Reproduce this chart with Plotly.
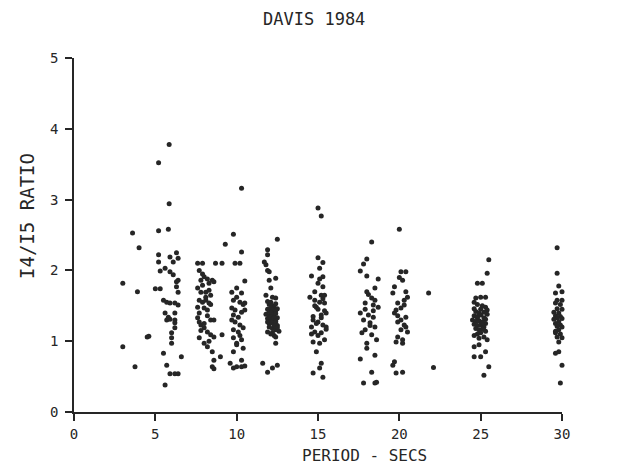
import plotly.graph_objects as go

# ---- data (period in seconds, I4/I5 ratio) ----
period_short = [3.0, 3.0, 3.6, 4.0, 3.75, 3.9, 4.5, 4.6, 5.2, 5.85, 5.85, 5.2, 5.8, 5.2, 5.2,
                5.9, 6.1, 6.3, 6.4, 5.3, 5.6, 5.9, 6.1, 6.3, 6.3, 6.4, 5.0, 5.3, 6.4,
                5.5, 5.7, 5.9, 6.2, 6.4, 5.6, 5.8, 5.7, 5.9, 6.2, 6.2, 6.2, 6.2,
                6.0, 6.0, 6.0, 5.5, 6.6, 5.7, 5.9, 6.2, 6.4, 5.6]
ratio_short = [1.82, 0.92, 2.53, 2.32, 0.64, 1.70, 1.06, 1.07, 3.52, 3.78, 2.94, 2.56, 2.58, 2.22, 2.12,
               2.19, 2.12, 2.25, 2.17, 1.99, 2.03, 1.98, 1.94, 1.84, 1.77, 1.86, 1.74, 1.74, 1.69,
               1.58, 1.55, 1.54, 1.54, 1.51, 1.40, 1.34, 1.30, 1.31, 1.40, 1.30, 1.26, 1.19,
               1.12, 1.05, 0.97, 0.83, 0.78, 0.66, 0.54, 0.54, 0.54, 0.38]

period_8 = [7.6, 7.9, 7.7, 8.0, 8.2, 8.5, 7.8, 7.9, 8.3, 8.6, 7.6, 7.8, 8.1, 8.3, 8.4,
            7.7, 7.9, 8.1, 8.3, 7.6, 8.0, 8.2, 7.6, 7.7, 7.8, 8.0, 8.2, 8.4, 8.6, 8.4, 8.6,
            7.7, 8.0, 8.2, 8.5, 8.6, 8.5, 8.6, 9.1, 9.0, 8.7, 9.1,
            7.9, 8.1, 8.4, 7.7, 8.2, 8.0, 7.8, 8.3]
ratio_8 = [2.10, 2.10, 2.00, 1.91, 1.88, 1.86, 1.86, 1.79, 1.82, 1.84, 1.75, 1.69, 1.69, 1.72, 1.65,
           1.58, 1.55, 1.58, 1.54, 1.48, 1.47, 1.44, 1.33, 1.27, 1.23, 1.19, 1.13, 1.09, 1.06, 1.30, 1.30,
           1.05, 0.97, 0.92, 0.85, 0.73, 0.64, 0.61, 1.09, 0.78, 2.10, 2.10,
           1.95, 1.62, 1.52, 1.40, 1.36, 1.25, 1.15, 1.00]

period_10 = [10.3, 9.8, 9.3, 10.3, 9.9, 10.2, 10.5, 9.7, 10.3, 10.0, 9.8, 10.2, 10.5,
             9.7, 9.9, 10.3, 10.5, 9.8, 10.1, 9.9, 10.2, 10.4, 9.8, 10.1,
             9.8, 10.3, 10.0, 10.4, 9.8, 10.3, 9.6, 9.8, 10.0, 10.3, 10.5,
             10.0, 10.4, 9.7, 10.2, 10.0]
ratio_10 = [3.16, 2.51, 2.37, 2.26, 2.10, 2.10, 1.85, 1.69, 1.68, 1.62, 1.58, 1.55, 1.54,
            1.47, 1.44, 1.41, 1.44, 1.37, 1.34, 1.27, 1.23, 1.19, 1.16, 1.13,
            1.05, 1.02, 0.97, 0.90, 0.85, 0.73, 0.69, 0.62, 0.64, 0.64, 0.65,
            1.75, 1.52, 1.30, 1.08, 0.95]

period_12 = [12.5, 11.9, 11.9, 11.7, 11.8, 11.9, 12.0, 12.4, 12.0, 12.1, 11.8, 12.2, 12.4,
             11.9, 12.0, 12.1, 12.2, 12.3, 12.4, 12.5, 11.9, 12.0, 12.1, 12.2, 12.3, 12.4,
             11.8, 12.0, 12.1, 12.2, 12.3, 12.4, 12.5, 11.9, 12.0, 12.1, 12.2, 12.3, 12.4,
             11.9, 12.0, 12.1, 12.2, 12.3, 12.4, 12.5, 12.0, 12.2, 12.3, 12.4, 12.5, 12.6,
             12.1, 12.3, 11.9, 12.2, 12.4, 12.4, 11.6, 11.9, 12.2, 12.5]
ratio_12 = [2.44, 2.29, 2.22, 2.12, 2.08, 2.00, 1.98, 1.89, 1.86, 1.75, 1.65, 1.62, 1.61,
            1.56, 1.52, 1.55, 1.50, 1.48, 1.53, 1.46, 1.45, 1.42, 1.47, 1.44, 1.40, 1.43,
            1.38, 1.36, 1.40, 1.37, 1.35, 1.39, 1.33, 1.32, 1.30, 1.34, 1.31, 1.33, 1.29,
            1.27, 1.25, 1.28, 1.26, 1.24, 1.27, 1.22, 1.20, 1.18, 1.22, 1.16, 1.19, 1.14,
            1.10, 1.08, 1.13, 1.12, 1.06, 0.97, 0.69, 0.56, 0.62, 0.66]

period_15 = [15.0, 15.2, 15.0, 15.3, 15.1, 14.6, 15.3, 15.0, 15.3, 14.8, 15.2, 15.4, 14.5,
             15.1, 15.4, 14.9, 15.5, 15.2, 14.7, 15.0, 15.3, 15.5, 14.6, 14.8, 15.2, 15.4,
             14.7, 15.1, 14.9, 15.2, 15.1, 14.7, 15.3,
             14.8, 15.0, 15.4, 14.7, 15.2, 14.9, 15.5, 15.0, 14.8, 15.3, 15.1, 14.6]
ratio_15 = [2.88, 2.77, 2.18, 2.11, 2.03, 1.92, 1.91, 1.82, 1.77, 1.70, 1.65, 1.65, 1.62,
            1.55, 1.54, 1.48, 1.40, 1.37, 1.30, 1.27, 1.23, 1.20, 1.20, 1.13, 1.12, 1.02,
            0.99, 0.97, 0.85, 0.69, 0.62, 0.55, 0.49,
            1.58, 1.45, 1.43, 1.35, 1.33, 1.25, 1.17, 1.08, 1.50, 1.60, 1.88, 1.10]

period_18 = [18.3, 18.0, 17.8, 17.6, 18.0, 18.7, 18.5, 18.3, 18.5, 17.9, 18.4, 18.7, 17.6,
             18.1, 18.4, 17.8, 18.2, 18.5, 17.9, 18.3, 18.0, 18.0, 18.5, 17.6, 18.3,
             17.8, 18.5, 18.6, 18.1, 17.9, 18.4, 18.2, 17.7, 18.6, 18.0]
ratio_18 = [2.40, 2.16, 2.09, 1.99, 1.92, 1.88, 1.75, 1.61, 1.58, 1.54, 1.51, 1.48, 1.40,
            1.37, 1.34, 1.30, 1.26, 1.20, 1.16, 1.09, 0.97, 0.90, 0.80, 0.75, 0.56,
            0.41, 0.41, 0.42, 1.66, 1.45, 1.43, 1.22, 1.12, 1.02, 1.70]

period_20 = [20.0, 20.1, 20.4, 20.2, 19.7, 20.4, 19.6, 20.5, 19.9, 20.3, 20.1, 19.7, 20.4,
             19.9, 20.3, 20.1, 20.5, 19.9, 19.8, 20.2, 19.7, 19.6, 19.8, 20.2,
             20.0, 20.3, 19.8, 20.1, 20.4, 19.9, 20.2]
ratio_20 = [2.58, 1.98, 1.98, 1.86, 1.77, 1.70, 1.68, 1.62, 1.54, 1.51, 1.47, 1.40, 1.34,
            1.27, 1.23, 1.16, 1.13, 1.06, 0.99, 0.97, 0.71, 0.66, 0.55, 0.56,
            1.90, 1.58, 1.44, 1.30, 1.20, 1.36, 1.02]

period_22 = [21.8, 22.1]
ratio_22 = [1.68, 0.63]

period_25 = [25.5, 25.4, 24.8, 25.1, 24.7, 25.0, 25.3, 24.6,
             24.8, 25.1, 25.3, 24.6, 25.0, 25.4, 24.7, 24.9, 25.2, 25.4,
             24.6, 24.8, 25.0, 25.2, 25.3, 24.5, 24.7, 24.9, 25.1, 25.3,
             24.6, 24.8, 25.0, 25.2, 24.7, 24.9, 25.1, 25.3, 24.8, 25.0,
             24.6, 25.2, 24.9, 25.4, 24.8, 25.1,
             24.9, 24.6, 25.3, 24.6, 25.0, 25.5, 25.2]
ratio_25 = [2.15, 1.96, 1.82, 1.82, 1.61, 1.62, 1.62, 1.55,
            1.52, 1.50, 1.48, 1.46, 1.45, 1.44, 1.42, 1.40, 1.41, 1.38,
            1.36, 1.35, 1.37, 1.33, 1.31, 1.30, 1.28, 1.29, 1.27, 1.25,
            1.24, 1.22, 1.23, 1.20, 1.18, 1.16, 1.17, 1.14, 1.10, 1.12,
            1.08, 1.06, 1.04, 1.02, 1.33, 1.26,
            0.95, 0.92, 0.85, 0.78, 0.78, 0.64, 0.52]

period_30 = [29.7, 30.4, 29.7, 30.3, 29.8, 30.2, 29.6, 30.0, 29.7, 30.0,
             29.6, 29.9, 30.2, 30.4, 29.7, 30.0, 30.3, 29.5, 29.8, 30.1,
             30.4, 29.6, 29.9, 30.2, 29.7, 30.0, 30.3, 29.5, 29.8, 30.1,
             30.4, 29.6, 29.9, 30.2, 29.7, 30.0, 30.3, 29.8, 30.1, 29.6,
             29.9, 30.2, 29.7, 30.0, 30.4, 29.8, 30.1, 29.6,
             29.8, 29.6, 30.3, 30.2, 30.0, 30.2, 29.9, 30.3, 30.4]
ratio_30 = [2.32, 2.15, 1.96, 1.94, 1.78, 1.77, 1.68, 1.70, 1.58, 1.58,
            1.54, 1.52, 1.50, 1.48, 1.46, 1.45, 1.43, 1.41, 1.40, 1.42,
            1.38, 1.36, 1.35, 1.37, 1.33, 1.32, 1.30, 1.31, 1.28, 1.27,
            1.26, 1.25, 1.23, 1.24, 1.21, 1.20, 1.18, 1.16, 1.15, 1.12,
            1.10, 1.08, 1.06, 1.05, 1.02, 0.99, 0.97, 1.14,
            0.85, 0.83, 0.93, 0.78, 0.66, 0.55, 0.41, 0.42, 0.41]

x_ticks = [0, 5, 10, 15, 20, 25, 30]
y_ticks = [0, 1, 2, 3, 4, 5]

periods = (period_short + period_8 + period_10 + period_12 + period_15 + period_18 +
           period_20 + period_22 + period_25 + period_30)
ratios = (ratio_short + ratio_8 + ratio_10 + ratio_12 + ratio_15 + ratio_18 +
          ratio_20 + ratio_22 + ratio_25 + ratio_30)

INK = "#262626"
FONT = "DejaVu Sans Mono"

fig = go.Figure(go.Scatter(
    x=periods, y=ratios, mode="markers", cliponaxis=False,
    marker=dict(size=5, color=INK, line=dict(width=0)),
    hoverinfo="x+y", showlegend=False,
))

axis_common = dict(showline=True, linecolor=INK, linewidth=1.6, ticks="outside",
                   ticklen=7, tickwidth=1.6, tickcolor=INK, showgrid=False, zeroline=False,
                   tickfont=dict(family=FONT, size=14, color=INK))

fig.update_layout(
    width=632, height=466,
    margin=dict(l=74, r=70, t=58, b=54),
    paper_bgcolor="white", plot_bgcolor="white",
    xaxis=dict(range=[0, 30], tickvals=x_ticks, ticklabelstandoff=1, **axis_common),
    yaxis=dict(range=[0, 5], tickvals=y_ticks, ticklabelstandoff=4, **axis_common),
    annotations=[
        dict(text="DAVIS 1984", xref="paper", yref="paper", x=(314 - 74) / 488, y=(412 - 19) / 354,
             showarrow=False, xanchor="center", yanchor="middle",
             font=dict(family=FONT, size=17, color=INK)),
        dict(text="PERIOD - SECS", xref="paper", yref="paper", x=(364 - 74) / 488, y=(412 - 455) / 354,
             showarrow=False, xanchor="center", yanchor="middle",
             font=dict(family=FONT, size=16, color=INK)),
        dict(text="I4/I5 RATIO", xref="paper", yref="paper", x=(27 - 74) / 488, y=0.554,
             showarrow=False, xanchor="center", yanchor="middle", textangle=-90,
             font=dict(family=FONT, size=19, color=INK)),
    ],
)

fig.write_html("out.html")
